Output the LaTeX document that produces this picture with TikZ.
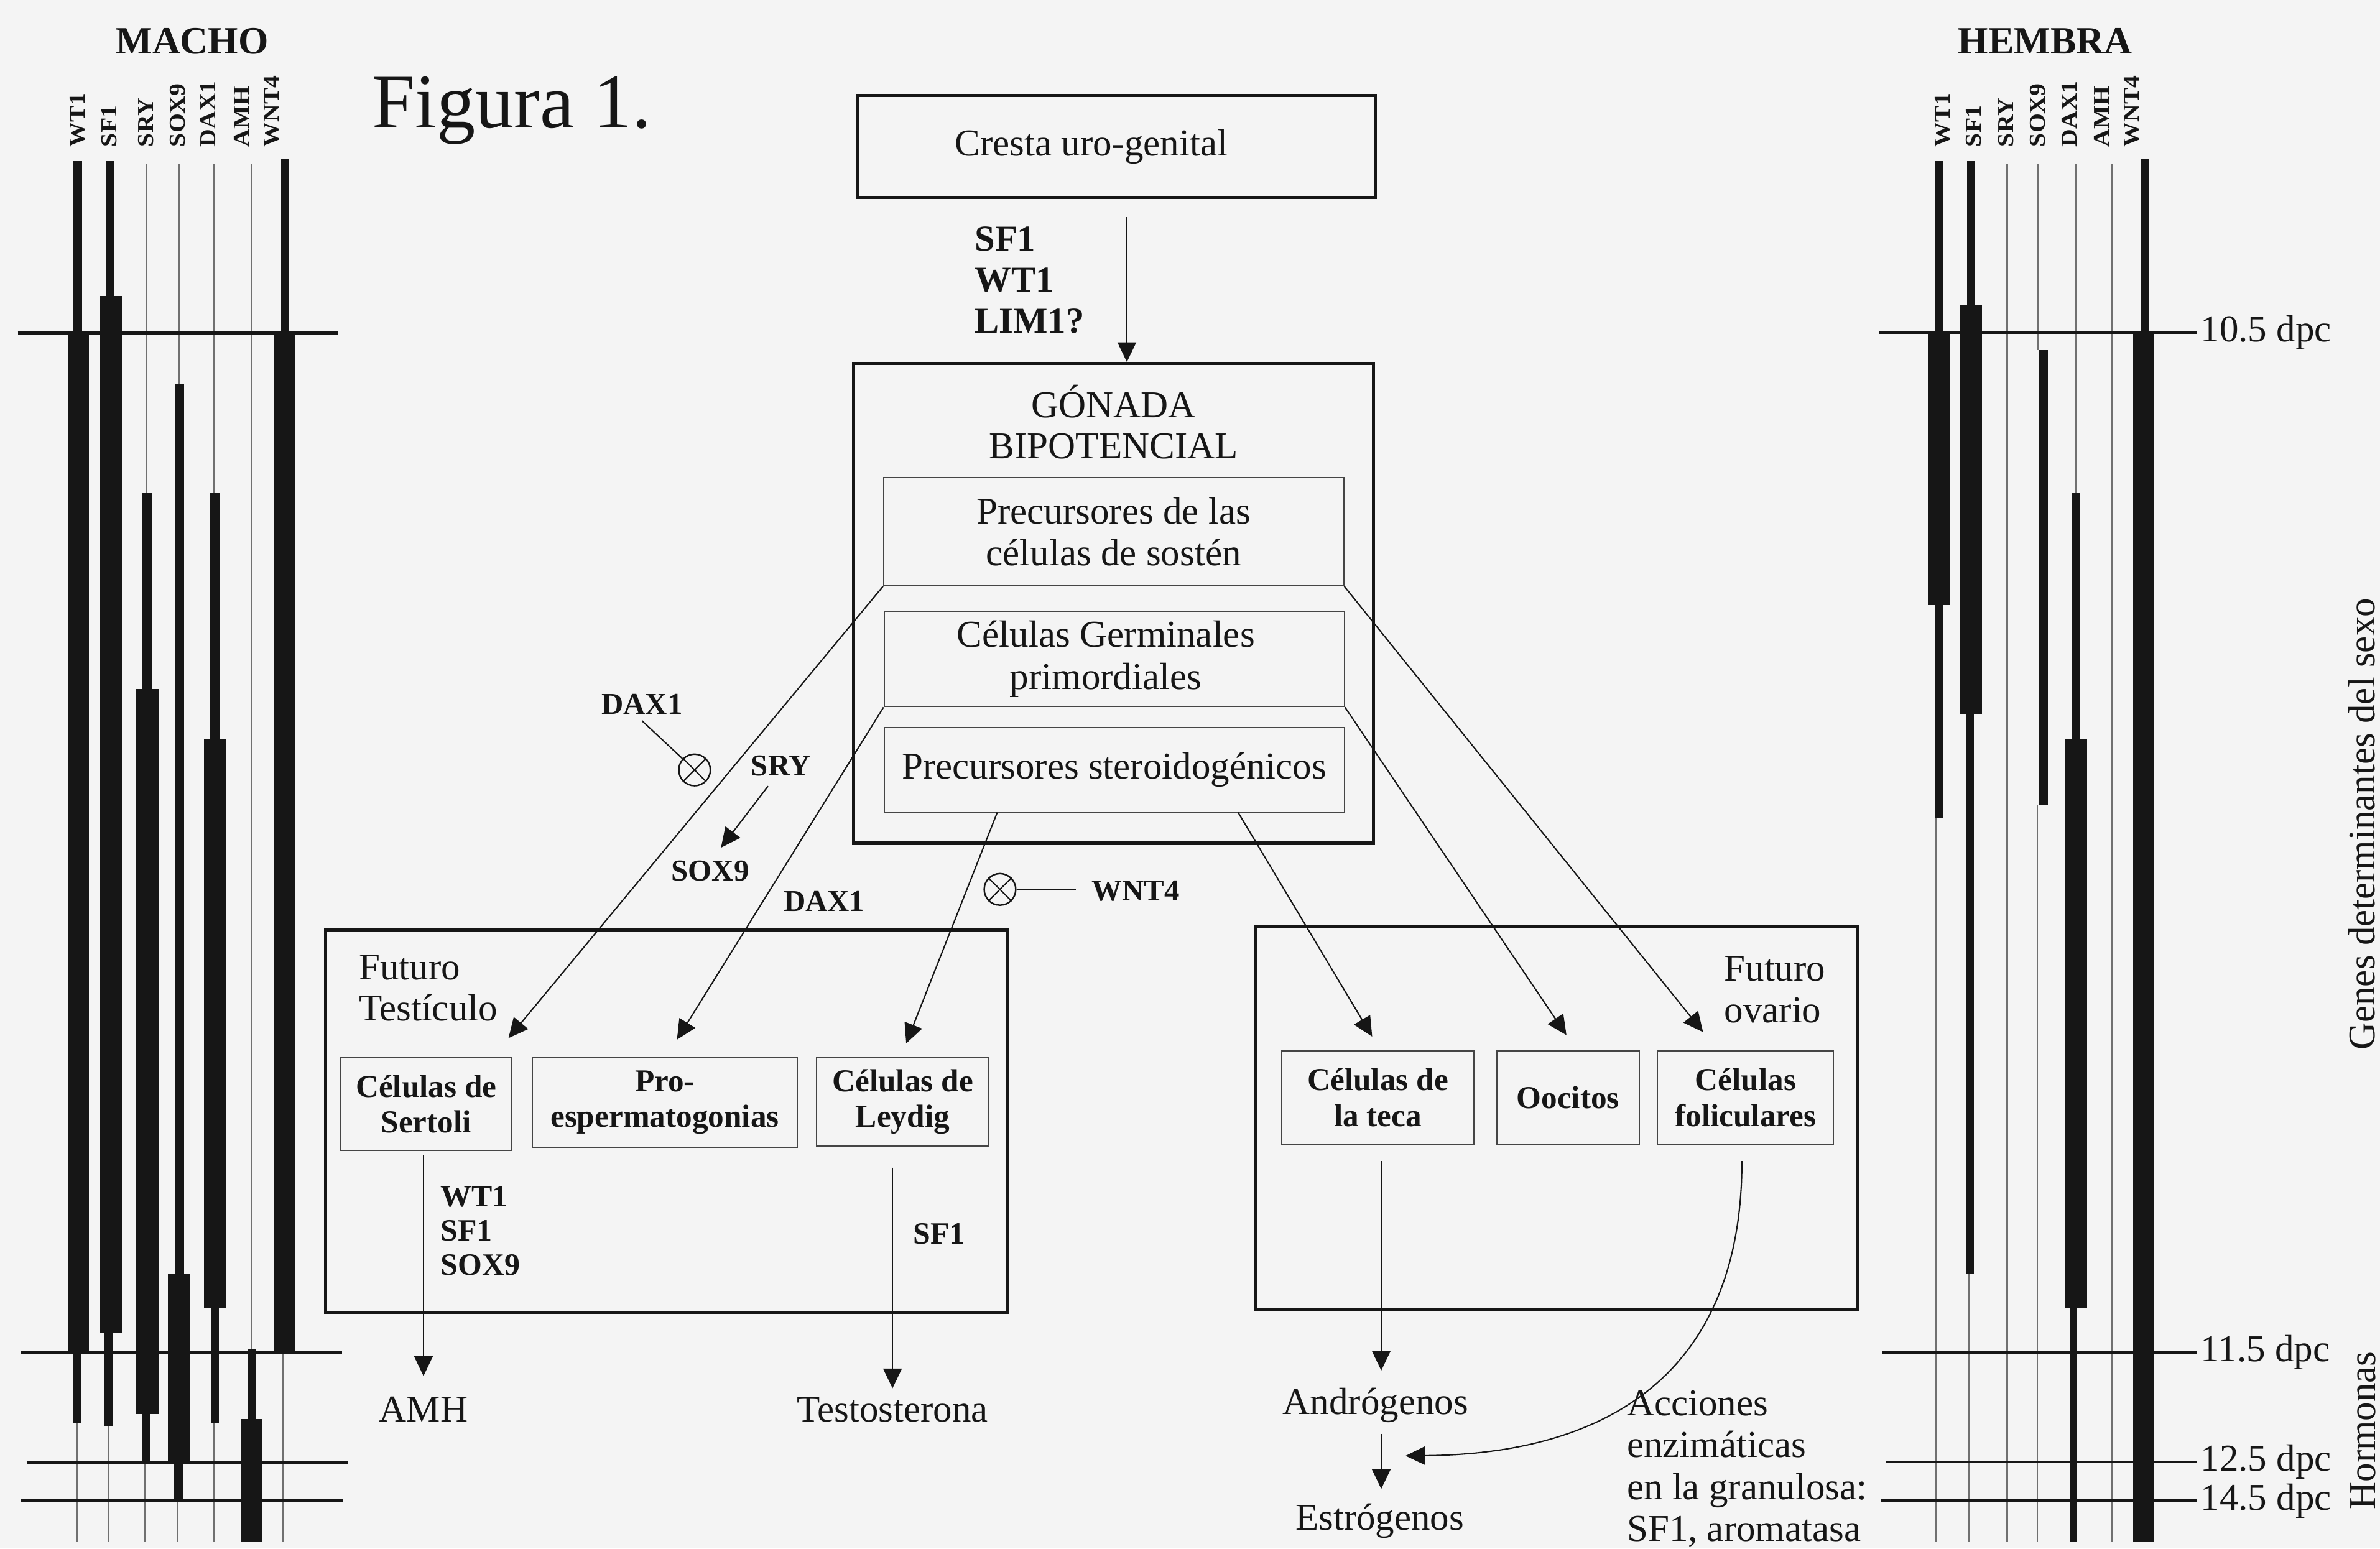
\documentclass[tikz,border=0pt]{standalone}
\usepackage{fontspec}
\usepackage{graphicx}
\setmainfont{Liberation Serif}
\usetikzlibrary{arrows.meta,calc}
\definecolor{ink}{HTML}{161616}
\definecolor{bgc}{HTML}{F4F4F4}
\definecolor{thinc}{HTML}{707070}
\def\U{0.024407cm}
\newcommand\fReg{\fontsize{17.36}{19.1}\selectfont}
\newcommand\fCell{\fontsize{14.6}{16.3}\selectfont\bfseries}
\newcommand\fSmb{\fontsize{13.9}{15.6}\selectfont\bfseries}
\newcommand\fLbl{\fontsize{16.7}{18.75}\selectfont\bfseries}
\newcommand\fSer{\fontsize{14.2}{15.6}\selectfont\bfseries}
\newcommand\fGene{\fontsize{11.3}{12}\selectfont\bfseries}
\newcommand\gl[1]{\scalebox{1}[0.92]{#1}}
\newcommand\gbar[4]{\fill[ink] (#1-#2/2,#3) rectangle (#1+#2/2,#4);}
\newcommand\gthin[3]{\draw[thinln] (#1,#2) -- (#1,#3);}
\begin{document}
\begin{tikzpicture}[x=0.024407cm,y=-0.024407cm,
  txt/.style={font=\fReg, inner sep=0, align=center, text=ink},
  outerbox/.style={draw=ink, line width=1.5pt, inner sep=0},
  cellbox/.style={draw=ink!80, line width=0.6pt, inner sep=0, align=center, font=\fCell, text=ink},
  innerbox/.style={draw=ink!80, line width=0.6pt, inner sep=0, align=center, font=\fReg, text=ink},
  arr/.style={draw=ink, line width=0.6pt, -{Triangle[length=9pt,width=8.5pt]}},
  ln/.style={draw=ink, line width=0.6pt},
  thinln/.style={draw=thinc, line width=0.8pt},
  tline/.style={draw=ink, line width=1.3pt},
  inh/.style={circle, draw=ink, line width=0.7pt, minimum size=20.8*\U, inner sep=0},
  smb/.style={font=\fSmb, inner sep=0, text=ink},
  gene/.style={rotate=90, anchor=west, inner sep=0, font=\fGene, text=ink}]
\useasboundingbox (0,0) rectangle (1568,1020.2);
\fill[bgc] (0,0) rectangle (1568,1020.2);

% ---------- MACHO panel ----------
\node[font=\fontsize{17.7}{20}\selectfont\bfseries, inner sep=0, text=ink] (macho) at (126.6,27) {MACHO};
\node[gene] (mg1) at (51,97) {\gl{WT1}};
\node[gene] (mg2) at (72,97) {\gl{SF1}};
\node[gene] (mg3) at (96,97) {\gl{SRY}};
\node[gene] (mg4) at (117,97) {\gl{SOX9}};
\node[gene] (mg5) at (137,97) {\gl{DAX1}};
\node[gene] (mg6) at (159,97) {\gl{AMH}};
\node[gene] (mg7) at (179,97) {\gl{WNT4}};
% WT1
\gbar{51.2}{5.8}{106}{219.5}\gbar{51.5}{14}{219.5}{891}\gbar{50.9}{5.2}{891}{938}\gthin{50.7}{938}{1016}
% SF1
\gbar{72.4}{5.9}{106}{195}\gbar{72.9}{15}{195}{878.6}\gbar{71.8}{5.6}{878.6}{940}\gthin{71.7}{940}{1016}
% SRY
\gthin{96.7}{108}{325}\gbar{96.9}{6.6}{325}{454}\gbar{96.9}{15.3}{454}{931.5}\gbar{96.4}{5.6}{931.5}{965}\gthin{95.8}{965}{1016}
% SOX9
\gthin{117.8}{108}{253}\gbar{118.5}{5.9}{253}{839}\gbar{117.8}{14.6}{839}{965}\gbar{117.8}{5.8}{965}{989}\gthin{117.2}{989}{1016}
% DAX1
\gthin{141.2}{108}{325}\gbar{141.6}{5.9}{325}{487}\gbar{141.8}{15}{487}{862}\gbar{141.4}{5.4}{862}{938}\gthin{140.8}{938}{1016}
% AMH
\gthin{165.6}{108}{889}\gbar{165.7}{5.1}{889}{935}\gbar{165.7}{13.9}{935}{1016}
% WNT4
\gbar{187.6}{5.1}{105}{219.5}\gbar{187.4}{14.3}{219.5}{891}\gthin{186.6}{891}{1016}
% time lines
\draw[tline] (11.7,219.5) -- (223,219.5);
\draw[tline] (13.9,891) -- (225.3,891);
\draw[tline] (17.6,963.6) -- (229,963.6);
\draw[tline] (13.9,988.8) -- (226,988.8);

% ---------- HEMBRA panel ----------
\node[font=\fontsize{17.7}{20}\selectfont\bfseries, inner sep=0, text=ink] (hembra) at (1347.5,27) {HEMBRA};
\node[gene] (fg1) at (1279.9,97) {\gl{WT1}};
\node[gene] (fg2) at (1300.4,97) {\gl{SF1}};
\node[gene] (fg3) at (1321.4,97) {\gl{SRY}};
\node[gene] (fg4) at (1342.5,97) {\gl{SOX9}};
\node[gene] (fg5) at (1363.5,97) {\gl{DAX1}};
\node[gene] (fg6) at (1384.7,97) {\gl{AMH}};
\node[gene] (fg7) at (1404.6,97) {\gl{WNT4}};
\gbar{1277.7}{5.6}{106}{219}\gbar{1277.4}{14.4}{219}{398.6}\gbar{1277.5}{6}{398.6}{539}\gthin{1275.8}{539}{1016}
\gbar{1298.7}{5.5}{106}{201}\gbar{1298.5}{14.5}{201}{470.4}\gbar{1297.7}{5.4}{470.4}{838.9}\gthin{1297.3}{838.9}{1016}
\gthin{1322.4}{108}{1016}
\gthin{1342.8}{108}{230.5}\gbar{1346.3}{5.4}{230.5}{530.5}\gthin{1342.2}{530.5}{1016}
\gthin{1367.4}{108}{325}\gbar{1367.4}{5.2}{325}{487}\gbar{1367.7}{14.4}{487}{862}\gbar{1366}{5}{862}{1016}
\gthin{1391.1}{108}{1016}
\gbar{1412.8}{5.2}{105}{219}\gbar{1412.2}{14}{219}{1016}
\draw[tline] (1237.7,219) -- (1447,219);
\draw[tline] (1240,891) -- (1447,891);
\draw[tline] (1242.5,963.3) -- (1447,963.3);
\draw[tline] (1239.5,988.8) -- (1447,988.8);
\node[txt, anchor=west] (d105) at (1449.5,219) {10.5 dpc};
\node[txt, anchor=west] (d115) at (1449.5,891) {11.5 dpc};
\node[txt, anchor=west] (d125) at (1449.5,963.3) {12.5 dpc};
\node[txt, anchor=west] (d145) at (1449.5,988.8) {14.5 dpc};
\node[txt, rotate=90] (gds) at (1556,543) {Genes determinantes del sexo};
\node[txt, rotate=90] (horm) at (1557,942.5) {Hormonas};

% ---------- title ----------
\node[anchor=base west, inner sep=0, font=\fontsize{35.4}{40}\selectfont, text=ink] (fig) at (245,84) {Figura 1.};

% ---------- central scheme ----------
\node[outerbox, minimum width=341*\U, minimum height=67*\U] (cresta) at (735.6,96.5) {};
\node[txt] (crestatxt) at (719,96.5) {Cresta uro-genital};
\node[font=\fLbl, inner sep=0, anchor=west, align=left, text=ink] (cgenes) at (641.9,184.5) {SF1\\WT1\\LIM1?};
\node[outerbox, minimum width=342.6*\U, minimum height=316*\U] (gonad) at (733.7,397.6) {};
\node[txt, font=\fontsize{17.36}{18.9}\selectfont] (gtitle) at (733.7,278) {GÓNADA\\BIPOTENCIAL};
\node[innerbox, minimum width=303*\U, minimum height=71.3*\U] (boxA) at (733.7,350.2) {Precursores de las\\células de sostén};
\node[innerbox, minimum width=303.2*\U, minimum height=62.8*\U] (boxB) at (734.1,434.2) {};
\node[txt] (boxBtxt) at (728.5,434.2) {Células Germinales\\primordiales};
\node[innerbox, minimum width=303.2*\U, minimum height=56.1*\U] (boxC) at (734.1,507.3) {Precursores steroidogénicos};
\coordinate (cr0) at (742.4,143);
\draw[arr] (cr0) -- (cr0 |- gonad.north);

% inhibitors
\node[smb] (dax1a) at (423,464) {DAX1};
\node[inh] (inh1) at (457.6,507.3) {};
\draw[ln] ([yshift=-4*\U]dax1a.south) -- (inh1);
\draw[ln] (inh1.45) -- (inh1.225) (inh1.135) -- (inh1.315);
\node[smb] (sry) at (514.6,504.6) {SRY};
\node[smb] (sox9) at (468,574) {SOX9};
\coordinate (sryS) at (506,518);
\coordinate (sryT) at (475,558.5);
\draw[arr] (sryS) -- (sryT);
\node[smb] (dax1b) at (543,594) {DAX1};
\node[inh] (inh2) at (658.8,586) {};
\draw[ln] (inh2.45) -- (inh2.225) (inh2.135) -- (inh2.315);
\node[smb, anchor=west] (wnt4) at (718.9,587) {WNT4};
\draw[ln] (inh2) -- ([xshift=-10*\U]wnt4.west |- inh2);

% ---------- Futuro testiculo ----------
\node[outerbox, minimum width=449.7*\U, minimum height=251.9*\U] (testbox) at (439.2,738.6) {};
\node[txt, anchor=west, align=left, font=\fontsize{17.36}{18.9}\selectfont] (testlab) at (236.2,651) {Futuro\\Testículo};
\node[cellbox, minimum width=112.9*\U, minimum height=61.2*\U] (sertoli) at (280.8,727.4) {Células de\\Sertoli};
\node[cellbox, minimum width=174.7*\U, minimum height=59.2*\U] (pro) at (438,726.4) {Pro-\\espermatogonias};
\node[cellbox, minimum width=113.8*\U, minimum height=58.2*\U] (leydig) at (594.7,725.9) {Células de\\Leydig};
\coordinate (tSer) at (335,684);
\coordinate (tPro) at (446,685);
\coordinate (sLey) at (657,535.3);
\coordinate (tLey) at (597,687.5);
\draw[arr] (boxA.south west) -- (tSer);
\draw[arr] (boxB.south west) -- (tPro);
\draw[arr] (sLey) -- (tLey);
\coordinate (s1) at (279,761.2);
\coordinate (t1) at (279,906.6);
\draw[arr] (s1) -- (t1);
\node[font=\fSer, inner sep=0, anchor=west, align=left, text=ink] (sertgenes) at (290,811) {WT1\\SF1\\SOX9};
\node[txt, anchor=base] (amh) at (279,937) {AMH};
\coordinate (s2) at (588,769.3);
\coordinate (t2) at (588,914.7);
\draw[arr] (s2) -- (t2);
\node[font=\fSer, inner sep=0, anchor=west, text=ink] (leyg) at (601.4,812.8) {SF1};
\node[txt, anchor=base] (testo) at (588,937) {Testosterona};

% ---------- Futuro ovario ----------
\node[outerbox, minimum width=396.6*\U, minimum height=252.5*\U] (ovbox) at (1025.3,736.8) {};
\node[txt, anchor=west, align=left, font=\fontsize{17.36}{18.9}\selectfont] (ovlab) at (1135.7,652) {Futuro\\ovario};
\node[cellbox, minimum width=126.9*\U, minimum height=61.8*\U] (teca) at (907.8,723.1) {Células de\\la teca};
\node[cellbox, minimum width=94*\U, minimum height=61.8*\U] (ooc) at (1033,723.1) {Oocitos};
\node[cellbox, minimum width=115.9*\U, minimum height=61.8*\U] (fol) at (1150,723.1) {Células\\foliculares};
\coordinate (tFol) at (1122,680);
\coordinate (tOoc) at (1032,682);
\coordinate (sTec) at (815.7,535.3);
\coordinate (tTec) at (904,683);
\draw[arr] (boxA.south east) -- (tFol);
\draw[arr] (boxB.south east) -- (tOoc);
\draw[arr] (sTec) -- (tTec);
\coordinate (s3) at (910,765);
\coordinate (t3) at (910,903);
\draw[arr] (s3) -- (t3);
\node[txt, anchor=base] (andro) at (906.3,932) {Andrógenos};
\coordinate (s4) at (910,944.7);
\coordinate (t4) at (910,981);
\draw[arr] (s4) -- (t4);
\node[txt, anchor=base] (estro) at (909,1008) {Estrógenos};
\coordinate (s5) at (1147.6,765);
\coordinate (t5) at (926,959.2);
\draw[arr] (s5) .. controls (1147.6,900) and (1065,958) .. (t5);
\node[txt, anchor=north west, align=left, font=\fontsize{17.36}{19.1}\selectfont] (acc) at (1071.6,916) {Acciones\\enzimáticas\\en la granulosa:\\SF1, aromatasa};
\end{tikzpicture}
\end{document}
